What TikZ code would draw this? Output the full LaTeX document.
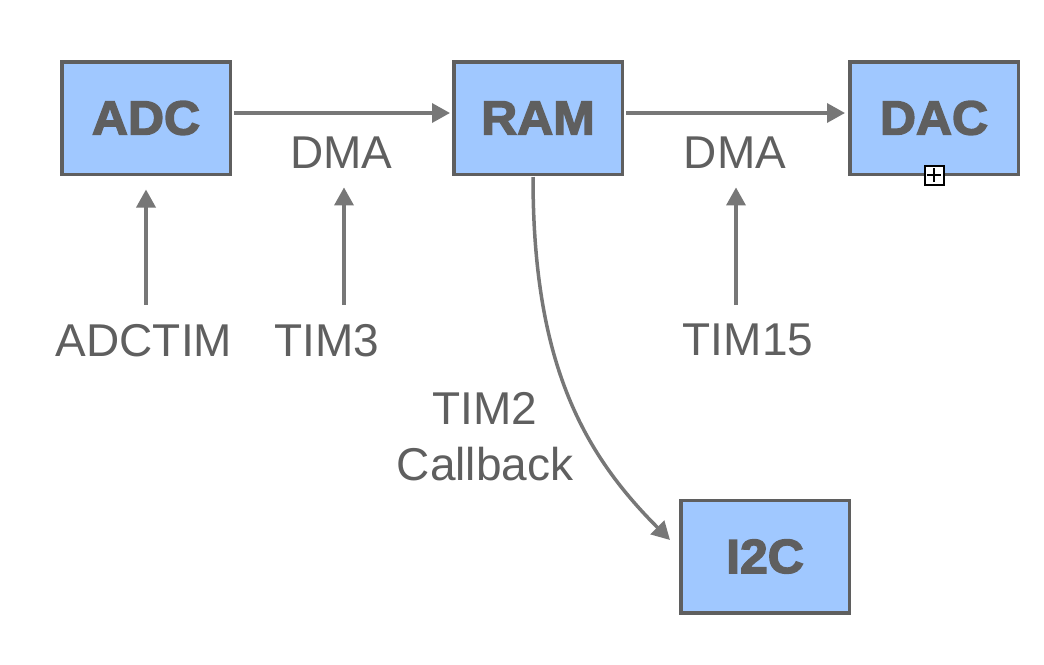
\documentclass[tikz,border=0pt]{standalone}
\usepackage{fontspec}
\setmainfont{Liberation Sans}
\newfontfamily\boxfont[FakeBold=3,FakeStretch=1.04]{Liberation Sans Bold}
\usetikzlibrary{arrows.meta}
\definecolor{boxfill}{HTML}{A0C8FF}
\definecolor{boxline}{HTML}{5F5F5F}
\definecolor{txt}{HTML}{5F5F5F}
\definecolor{arrcol}{HTML}{777777}
\tikzset{
  blk/.style={draw=boxline, fill=boxfill, line width=3.5pt, minimum width=168.5pt,
    minimum height=112.5pt, inner sep=0pt, text=txt,
    font=\boxfont\fontsize{48}{48}\selectfont},
  lbl/.style={inner sep=0pt, text=txt, font=\fontsize{46}{56.7}\selectfont, align=center},
  arr/.style={draw=arrcol, line width=3.5pt, -{Triangle[length=18pt,width=19pt]}},
  plusicon/.style={draw=black, fill=white, line width=2pt, minimum size=19pt, inner sep=0pt}
}
\begin{document}
\begin{tikzpicture}[x=1pt,y=-1pt]
\useasboundingbox (0,0) rectangle (1044,664);
\node[blk] (adc) at (146,118) {ADC};
\node[blk] (ram) at (538,118) {RAM};
\node[blk] (dac) at (934,118) {DAC};
\node[blk] (i2c) at (765,556.5) {I2C};
\node[lbl] (dma1) at (341.5,153) {DMA};
\node[lbl] (dma2) at (735,153) {DMA};
\node[lbl] (adctim) at (144,340.3) {ADCTIM};
\node[lbl] (tim3) at (326.5,340.3) {TIM3};
\node[lbl] (tim15) at (748,340.3) {TIM15};
\node[lbl] (tim2) at (485,436.7) {TIM2\\Callback};
\node[plusicon] (plus) at (934,175) {};
\draw[line width=2pt] ([xshift=-7pt]plus.center) -- ([xshift=7pt]plus.center)
  ([yshift=-7pt]plus.center) -- ([yshift=7pt]plus.center);
\draw[arr] ([xshift=2pt,yshift=5pt]adc.east) -- ([xshift=-2pt,yshift=5pt]ram.west);
\draw[arr] ([xshift=2pt,yshift=5pt]ram.east) -- ([xshift=-3pt,yshift=5pt]dac.west);
\draw[arr] ([xshift=2pt,yshift=19pt]adctim.north) -- ([yshift=-13.5pt]adc.south);
\draw[arr] ([xshift=17.5pt,yshift=19pt]tim3.north) -- ([xshift=2.5pt,yshift=-18.4pt]dma1.south);
\draw[arr] ([xshift=-12pt,yshift=19pt]tim15.north) -- ([xshift=1pt,yshift=-18.4pt]dma2.south);
\draw[arr] ([xshift=-5pt,yshift=-1pt]ram.south) .. controls (533,360) and (581,451) .. ([xshift=-9pt,yshift=-41.5pt]i2c.north west);
\end{tikzpicture}
\end{document}
